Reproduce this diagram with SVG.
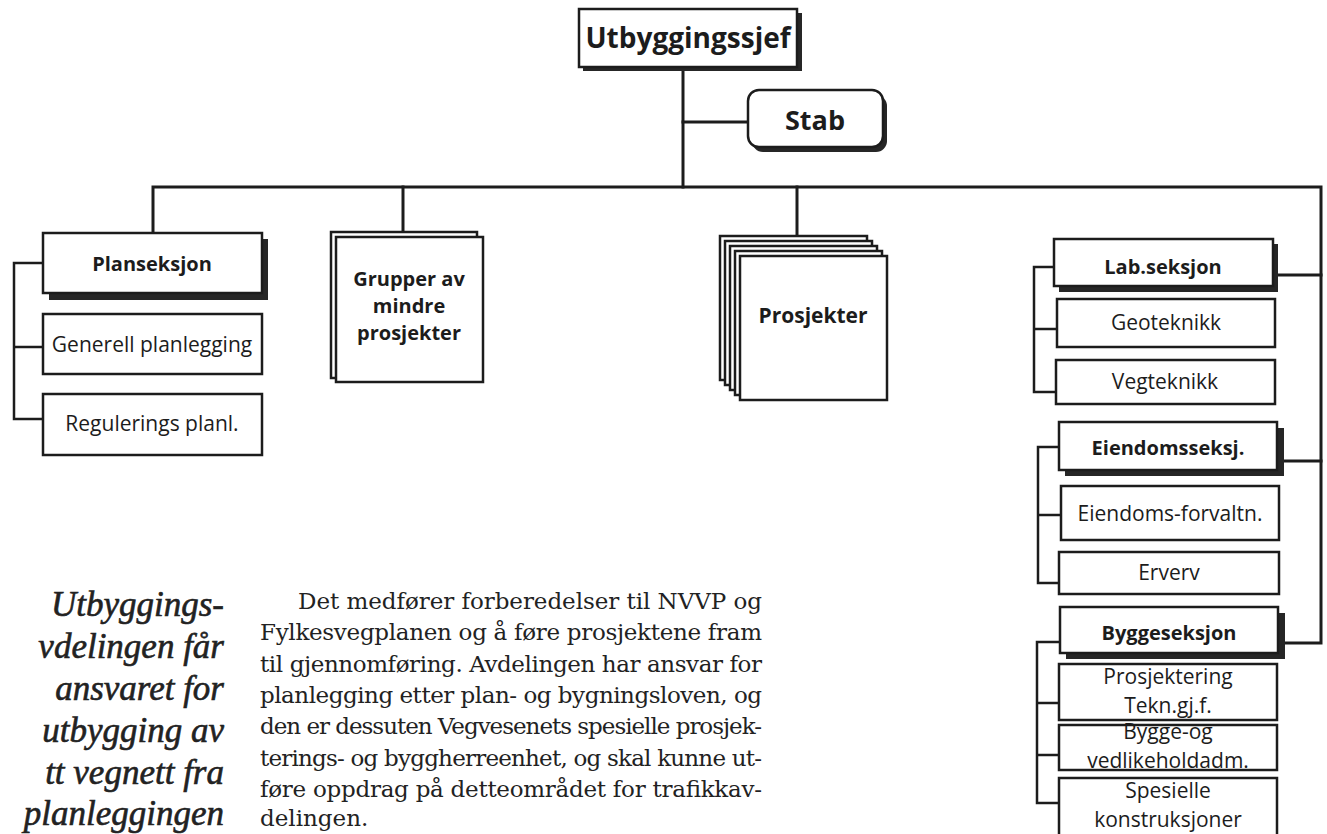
<svg xmlns="http://www.w3.org/2000/svg" width="1327" height="834" viewBox="0 0 1327 834">
<style>
.box{fill:#fff;stroke:#1c1c1c;stroke-width:2.5}
.shadow{fill:#262626}
.ln{stroke:#1c1c1c;stroke-width:3;fill:none;stroke-linecap:square}
.ln2{stroke:#1c1c1c;stroke-width:2.5;fill:none}
.t{font-family:"Open Sans","Liberation Sans",sans-serif;font-size:21px;fill:#1c1c1c;text-anchor:middle}
.b{font-weight:bold;font-size:20px}
.it{font-family:"Liberation Serif","DejaVu Serif",serif;font-style:italic;font-size:35px;fill:#222;stroke:#222;stroke-width:0.6;text-anchor:end}
.body{font-family:"DejaVu Serif","Liberation Serif",serif;font-size:23px;fill:#222}
</style>
<rect width="1327" height="834" fill="#fff"/>
<g id="connectors">
<path class="ln" d="M683,67 V187"/>
<path class="ln" d="M683,122 H748"/>
<path class="ln" d="M153,233 V187 H1321 V643 H1285"/>
<path class="ln" d="M1278,275 H1321"/>
<path class="ln" d="M1284,461 H1321"/>
<path class="ln" d="M403,187 V232"/>
<path class="ln" d="M797,187 V236"/>
<path class="ln2" d="M43,263 H14 V419 H43 M14,347 H43"/>
<path class="ln2" d="M1054,267 H1034 V392 H1056 M1034,329 H1057"/>
<path class="ln2" d="M1059,447 H1038 V583 H1059 M1038,515 H1061"/>
<path class="ln2" d="M1060,642 H1037 V803 H1059 M1037,703 H1059 M1037,755 H1059"/>
</g>
<g id="utbyggingssjef">
<rect class="shadow" x="583" y="13" width="219" height="58"/>
<rect class="box" x="579" y="9" width="218" height="58"/>
<text class="t b" x="688" y="48" style="font-size:28px">Utbyggingssjef</text>
</g>
<g id="stab">
<rect class="shadow" x="752" y="95" width="135" height="57" rx="11"/>
<rect class="box" x="748" y="90" width="135" height="57" rx="11"/>
<text class="t b" x="815" y="130" style="font-size:27px">Stab</text>
</g>
<g id="planseksjon">
<rect class="shadow" x="49" y="239" width="219" height="61"/>
<rect class="box" x="43" y="233" width="219" height="60"/>
<text class="t b" x="152" y="271">Planseksjon</text>
</g>
<g id="generell">
<rect class="box" x="43" y="314" width="219" height="60"/>
<text class="t" x="152" y="352">Generell planlegging</text>
</g>
<g id="regulerings">
<rect class="box" x="43" y="394" width="219" height="61"/>
<text class="t" x="152" y="431">Regulerings planl.</text>
</g>
<g id="grupper">
<rect class="box" x="331" y="232" width="146" height="146"/>
<rect class="box" x="336" y="237" width="147" height="145"/>
<text class="t b" x="409" y="286">Grupper av</text>
<text class="t b" x="409" y="313">mindre</text>
<text class="t b" x="409" y="340">prosjekter</text>
</g>
<g id="prosjekter">
<rect class="box" x="720" y="236" width="147" height="144"/>
<rect class="box" x="725" y="241" width="147" height="144"/>
<rect class="box" x="730" y="246" width="147" height="144"/>
<rect class="box" x="735" y="251" width="147" height="144"/>
<rect class="box" x="740" y="256" width="147" height="144"/>
<text class="t b" x="813" y="323" style="font-size:21px">Prosjekter</text>
</g>
<g id="lab">
<rect class="shadow" x="1059" y="244" width="219" height="48"/>
<rect class="box" x="1054" y="239" width="219" height="47"/>
<text class="t b" x="1163" y="274">Lab.seksjon</text>
</g>
<g id="geoteknikk">
<rect class="box" x="1057" y="299" width="218" height="48"/>
<text class="t" x="1166" y="330">Geoteknikk</text>
</g>
<g id="vegteknikk">
<rect class="box" x="1056" y="360" width="219" height="44"/>
<text class="t" x="1165" y="389">Vegteknikk</text>
</g>
<g id="eiendomsseksj">
<rect class="shadow" x="1065" y="428" width="219" height="48"/>
<rect class="box" x="1059" y="422" width="218" height="48"/>
<text class="t b" x="1168" y="455">Eiendomsseksj.</text>
</g>
<g id="eiendomsforvaltn">
<rect class="box" x="1061" y="486" width="218" height="54"/>
<text class="t" x="1170" y="521">Eiendoms-forvaltn.</text>
</g>
<g id="erverv">
<rect class="box" x="1059" y="552" width="220" height="42"/>
<text class="t" x="1169" y="580">Erverv</text>
</g>
<g id="byggeseksjon">
<rect class="shadow" x="1066" y="613" width="219" height="46"/>
<rect class="box" x="1060" y="607" width="218" height="46"/>
<text class="t b" x="1169" y="640">Byggeseksjon</text>
</g>
<g id="prosjektering">
<rect class="box" x="1059" y="664" width="218" height="56"/>
<text class="t" x="1168" y="684">Prosjektering</text>
<text class="t" x="1168" y="713">Tekn.gj.f.</text>
</g>
<g id="byggeog">
<rect class="box" x="1059" y="725" width="218" height="45"/>
<text class="t" x="1168" y="739">Bygge-og</text>
<text class="t" x="1168" y="768">vedlikeholdadm.</text>
</g>
<g id="spesielle">
<rect class="box" x="1059" y="778" width="218" height="70"/>
<text class="t" x="1168" y="798">Spesielle</text>
<text class="t" x="1168" y="827">konstruksjoner</text>
</g>
<g id="sidebar">
<text class="it" x="224" y="616">Utbyggings-</text>
<text class="it" x="224" y="658">vdelingen får</text>
<text class="it" x="224" y="700">ansvaret for</text>
<text class="it" x="224" y="742">utbygging av</text>
<text class="it" x="224" y="784">tt vegnett fra</text>
<text class="it" x="224" y="825">planleggingen</text>
</g>
<g id="bodytext">
<text class="body" x="298" y="609" textLength="464" lengthAdjust="spacing">Det medfører forberedelser til NVVP og</text>
<text class="body" x="260" y="640" textLength="502" lengthAdjust="spacing">Fylkesvegplanen og å føre prosjektene fram</text>
<text class="body" x="260" y="672" textLength="502" lengthAdjust="spacing">til gjennomføring. Avdelingen har ansvar for</text>
<text class="body" x="260" y="703" textLength="502" lengthAdjust="spacing">planlegging etter plan- og bygningsloven, og</text>
<text class="body" x="260" y="734" textLength="502" lengthAdjust="spacing">den er dessuten Vegvesenets spesielle prosjek-</text>
<text class="body" x="260" y="766" textLength="502" lengthAdjust="spacing">terings- og byggherreenhet, og skal kunne ut-</text>
<text class="body" x="260" y="797" textLength="502" lengthAdjust="spacing">føre oppdrag på detteområdet for trafikkav-</text>
<text class="body" x="260" y="826">delingen.</text>
</g>
</svg>
